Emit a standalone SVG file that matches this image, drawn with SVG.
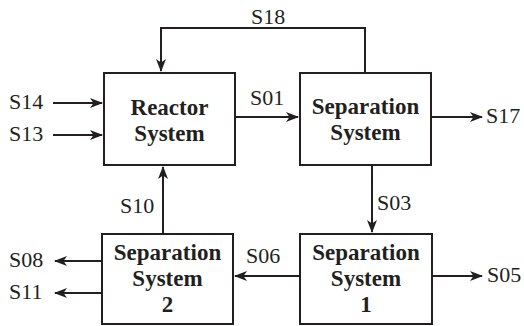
<svg xmlns="http://www.w3.org/2000/svg" width="524" height="326" viewBox="0 0 524 326">
<style>
.box{fill:#fff;stroke:#231f20;stroke-width:2}
.t{font-family:"Liberation Serif","Times New Roman",serif;font-weight:bold;font-size:23px;fill:#231f20;text-anchor:middle}
.l{font-family:"Liberation Serif","Times New Roman",serif;font-size:22px;fill:#231f20}
.c{fill:none;stroke:#231f20;stroke-width:2}
</style>
<defs>
<marker id="ah" markerUnits="userSpaceOnUse" markerWidth="13" markerHeight="11" refX="12" refY="5.5" orient="auto">
<path d="M0,0.5 L13,5.5 L0,10.5 L3.5,5.5 Z" fill="#231f20"/>
</marker>
</defs>
<g id="connectors">
<path class="c" d="M365,73 V28 H161 V71" marker-end="url(#ah)"/>
<path class="c" d="M53,103 H102" marker-end="url(#ah)"/>
<path class="c" d="M53,135 H102" marker-end="url(#ah)"/>
<path class="c" d="M235,117 H298" marker-end="url(#ah)"/>
<path class="c" d="M431,117 H482" marker-end="url(#ah)"/>
<path class="c" d="M372,165 V232" marker-end="url(#ah)"/>
<path class="c" d="M300,276 H235" marker-end="url(#ah)"/>
<path class="c" d="M432,276 H482" marker-end="url(#ah)"/>
<path class="c" d="M163,234 V167" marker-end="url(#ah)"/>
<path class="c" d="M102,261 H55" marker-end="url(#ah)"/>
<path class="c" d="M102,293 H55" marker-end="url(#ah)"/>
<text class="l" x="251" y="24">S18</text>
<text class="l" x="9" y="109">S14</text>
<text class="l" x="9" y="141">S13</text>
<text class="l" x="250" y="105">S01</text>
<text class="l" x="486" y="123">S17</text>
<text class="l" x="377" y="210">S03</text>
<text class="l" x="120" y="213">S10</text>
<text class="l" x="246" y="263">S06</text>
<text class="l" x="487" y="282">S05</text>
<text class="l" x="9" y="267">S08</text>
<text class="l" x="9" y="299">S11</text>
</g>
<g id="reactor">
<rect class="box" x="104" y="73" width="131" height="92"/>
<text class="t" x="169.5" y="115">Reactor</text>
<text class="t" x="169.5" y="141">System</text>
</g>
<g id="separation">
<rect class="box" x="300" y="73" width="131" height="92"/>
<text class="t" x="365.5" y="114">Separation</text>
<text class="t" x="365.5" y="140">System</text>
</g>
<g id="separation2">
<rect class="box" x="102" y="234" width="131" height="90"/>
<text class="t" x="167.5" y="260">Separation</text>
<text class="t" x="167.5" y="286">System</text>
<text class="t" x="167.5" y="312">2</text>
</g>
<g id="separation1">
<rect class="box" x="300" y="234" width="132" height="90"/>
<text class="t" x="366" y="260">Separation</text>
<text class="t" x="366" y="286">System</text>
<text class="t" x="366" y="312">1</text>
</g>
</svg>
